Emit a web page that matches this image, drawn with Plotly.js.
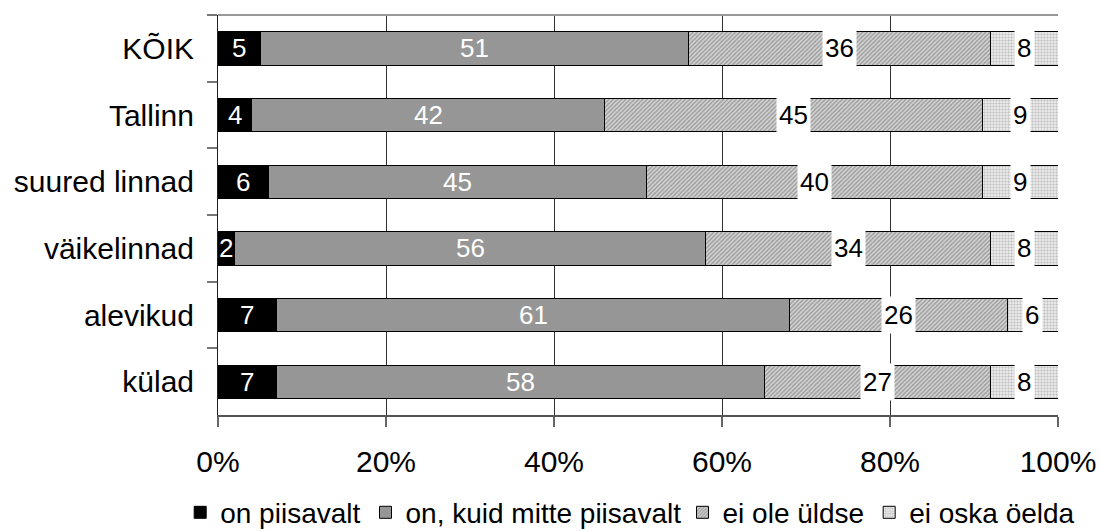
<!DOCTYPE html>
<html>
<head>
<meta charset="utf-8">
<script src="https://cdn.plot.ly/plotly-3.0.1.min.js"></script>
<style>html,body{margin:0;padding:0;background:#fff;}#chart{width:1100px;height:531px;}</style>
</head>
<body>
<div id="chart"></div>
<script>
const categories = ['KÕIK', 'Tallinn', 'suured linnad', 'väikelinnad', 'alevikud', 'külad'];
const seriesNames = ['on piisavalt', 'on, kuid mitte piisavalt', 'ei ole üldse', 'ei oska öelda'];
const onPiisavalt = [5, 4, 6, 2, 7, 7];
const onKuidMitte = [51, 42, 45, 56, 61, 58];
const eiOleUldse = [36, 45, 40, 34, 26, 27];
const eiOskaOelda = [8, 9, 9, 8, 6, 8];
const xTickVals = [0, 20, 40, 60, 80, 100];

const series = [onPiisavalt, onKuidMitte, eiOleUldse, eiOskaOelda];
const styles = [
  {color: '#000000', pattern: null, text: '#ffffff', bg: null, legend: 'legend'},
  {color: '#969696', pattern: null, text: '#ffffff', bg: null, legend: 'legend'},
  {color: '#d0d0d0', pattern: {shape: '/', fgcolor: '#9a9a9a', bgcolor: '#d4d4d4', size: 3, solidity: 0.45}, text: '#000000', bg: '#ffffff', legend: 'legend2'},
  {color: '#f2f2f2', pattern: {shape: '.', fgcolor: '#c4c4c4', bgcolor: '#f4f4f4', size: 3, solidity: 0.5}, text: '#000000', bg: '#ffffff', legend: 'legend2'}
];
const FONT = 'Liberation Sans, Arial, sans-serif';

const traces = series.map((vals, i) => {
  const m = {color: styles[i].color, line: {color: '#000', width: 1}};
  if (styles[i].pattern) m.pattern = styles[i].pattern;
  return {
    type: 'bar', orientation: 'h', name: seriesNames[i], legend: styles[i].legend,
    x: vals, y: categories, marker: m, hoverinfo: 'skip'
  };
});

const annotations = [];
categories.forEach((c, j) => {
  let cum = 0;
  series.forEach((vals, i) => {
    const v = vals[j];
    const a = {
      x: cum + v / 2, y: c, xref: 'x', yref: 'y', text: String(v), showarrow: false,
      font: {family: FONT, size: 26, color: styles[i].text}, xanchor: 'center', yanchor: 'middle'
    };
    if (styles[i].bg) { a.bgcolor = styles[i].bg; a.height = 36; a.borderpad = 0; a.width = String(v).length * 14.5 + 4; }
    annotations.push(a);
    cum += v;
  });
});

const legendFont = {family: FONT, size: 28, color: '#000'};
const layout = {
  width: 1100, height: 531,
  margin: {l: 218, r: 42, t: 15, b: 116, autoexpand: false},
  paper_bgcolor: '#fff', plot_bgcolor: '#fff',
  barmode: 'stack', bargap: 0.5,
  font: {family: FONT, color: '#000'},
  showlegend: true,
  legend: {orientation: 'h', x: -0.045, xanchor: 'left', y: -0.244, yanchor: 'middle',
    font: legendFont, itemclick: false, traceorder: 'normal', bgcolor: 'rgba(0,0,0,0)'},
  legend2: {orientation: 'h', x: 0.553, xanchor: 'left', y: -0.244, yanchor: 'middle',
    font: legendFont, itemclick: false, traceorder: 'normal', bgcolor: 'rgba(0,0,0,0)'},
  xaxis: {
    range: [0, 100], tickvals: xTickVals, ticktext: xTickVals.map(v => v + '%'),
    showgrid: true, gridcolor: '#333', gridwidth: 1,
    showline: true, linecolor: '#555', linewidth: 2, mirror: false,
    ticks: 'outside', ticklen: 10, tickcolor: '#666', tickwidth: 2, ticklabelstandoff: 9,
    tickfont: {family: FONT, size: 30, color: '#000'}, zeroline: false, fixedrange: true
  },
  yaxis: {
    type: 'category', autorange: 'reversed',
    showgrid: false, showline: true, linecolor: '#222', linewidth: 1,
    ticks: 'outside', tickson: 'boundaries', ticklen: 10, tickcolor: '#777', tickwidth: 2,
    tickfont: {family: FONT, size: 30, color: '#000'}, ticklabelstandoff: 17, zeroline: false, fixedrange: true
  },
  shapes: [
    {type: 'line', xref: 'paper', yref: 'paper', x0: 0, x1: 1, y0: 1, y1: 1, line: {color: '#999', width: 2}}
  ],
  annotations: annotations
};

Plotly.newPlot('chart', traces, layout, {displayModeBar: false, staticPlot: true});
</script>
</body>
</html>
